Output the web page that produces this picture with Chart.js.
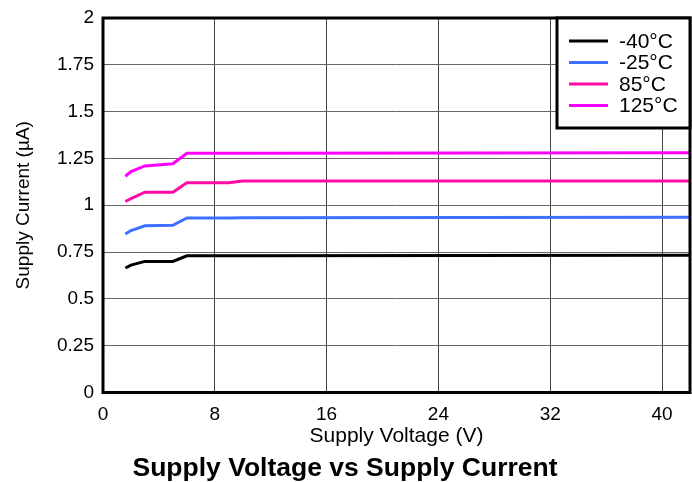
<!DOCTYPE html>
<html>
<head>
<meta charset="utf-8">
<script src="https://cdn.jsdelivr.net/npm/chart.js@4"></script>
<style>
  html, body { margin: 0; padding: 0; background: #fff; }
  #wrap { width: 692px; height: 482px; }
</style>
</head>
<body>
<div id="wrap"><canvas id="grafico"></canvas></div>
<script>
// dados
const tensao = [1.6, 2, 3, 5, 6, 9, 10, 42];
const rotulos = ['-40°C', '-25°C', '85°C', '125°C'];
const corrente40neg = [0.665, 0.68, 0.70, 0.70, 0.73, 0.73, 0.73, 0.733];
const corrente25neg = [0.846, 0.865, 0.89, 0.893, 0.932, 0.932, 0.933, 0.936];
const corrente85 = [1.02, 1.035, 1.07, 1.07, 1.12, 1.12, 1.13, 1.13];
const corrente125 = [1.155, 1.18, 1.21, 1.222, 1.278, 1.278, 1.278, 1.28];
const ticksX = [0, 8, 16, 24, 32, 40];
const ticksY = [0, 0.25, 0.5, 0.75, 1, 1.25, 1.5, 1.75, 2];
const cores = ['#000000', '#3f6fff', '#ff0aa5', '#ff00ff'];

const series = [corrente40neg, corrente25neg, corrente85, corrente125];
const FONTE = "'Liberation Sans', Arial, sans-serif";

// borda grossa do grafico + legenda em caixa
const molduraPlugin = {
    id: 'moldura',
    afterDraw(chart) {
        const { ctx, chartArea: a } = chart;
        ctx.save();
        ctx.strokeStyle = '#000';
        ctx.lineWidth = 3;
        ctx.strokeRect(a.left, a.top, a.right - a.left, a.bottom - a.top);

        // legenda
        const lx = 557, ly = a.top, lw = a.right - 557, lh = 110;
        ctx.fillStyle = '#fff';
        ctx.fillRect(lx, ly, lw, lh);
        ctx.lineWidth = 3;
        ctx.strokeRect(lx, ly, lw, lh);
        ctx.font = '21px ' + FONTE;
        ctx.textBaseline = 'middle';
        rotulos.forEach((r, i) => {
            const y = ly + 23 + i * 21.5;
            ctx.strokeStyle = cores[i];
            ctx.lineWidth = 3;
            ctx.beginPath();
            ctx.moveTo(lx + 12, y);
            ctx.lineTo(lx + 51, y);
            ctx.stroke();
            ctx.fillStyle = '#000';
            ctx.fillText(r, lx + 62, y + 1);
        });
        ctx.restore();
    }
};

const ctx = document.getElementById('grafico').getContext('2d');
new Chart(ctx, {
    type: 'line',
    data: {
        datasets: series.map((s, i) => ({
            label: rotulos[i],
            data: tensao.map((v, j) => ({ x: v, y: s[j] })),
            borderColor: cores[i],
            backgroundColor: cores[i],
            borderWidth: 3,
            pointRadius: 0,
            tension: 0
        }))
    },
    options: {
        responsive: true,
        maintainAspectRatio: false,
        animation: false,
        layout: { padding: { top: 18, right: 2, left: 0, bottom: 0 } },
        plugins: {
            legend: { display: false },
            tooltip: { enabled: false },
            title: {
                display: true,
                position: 'bottom',
                text: 'Supply Voltage vs Supply Current',
                color: '#000',
                font: { family: FONTE, size: 26.5, weight: 'bold', lineHeight: 1 },
                padding: { top: 4, bottom: 0 }
            }
        },
        scales: {
            x: {
                type: 'linear',
                min: 0,
                max: 42,
                afterBuildTicks: (eixo) => { eixo.ticks = ticksX.map(v => ({ value: v })); },
                afterFit: (eixo) => { eixo.height = 59; },
                ticks: { color: '#000', font: { family: FONTE, size: 19 }, maxRotation: 0, padding: 11 },
                grid: { color: '#444', lineWidth: 1, drawTicks: false },
                border: { display: false },
                title: {
                    display: true,
                    text: 'Supply Voltage (V)',
                    color: '#000',
                    font: { family: FONTE, size: 21 },
                    padding: { top: 0, bottom: 3 }
                }
            },
            y: {
                min: 0,
                max: 2,
                afterBuildTicks: (eixo) => { eixo.ticks = ticksY.map(v => ({ value: v })); },
                afterFit: (eixo) => { eixo.width = 103; eixo.paddingTop = 0; },
                ticks: {
                    color: '#000',
                    font: { family: FONTE, size: 19, lineHeight: 1 },
                    padding: 9,
                    callback: (v) => String(v)
                },
                grid: { color: '#666', lineWidth: 1, drawTicks: false },
                border: { display: false },
                title: {
                    display: true,
                    text: 'Supply Current (µA)',
                    color: '#000',
                    font: { family: FONTE, size: 19 },
                    padding: { top: 12, bottom: 0 }
                }
            }
        }
    },
    plugins: [molduraPlugin]
});
</script>
</body>
</html>
